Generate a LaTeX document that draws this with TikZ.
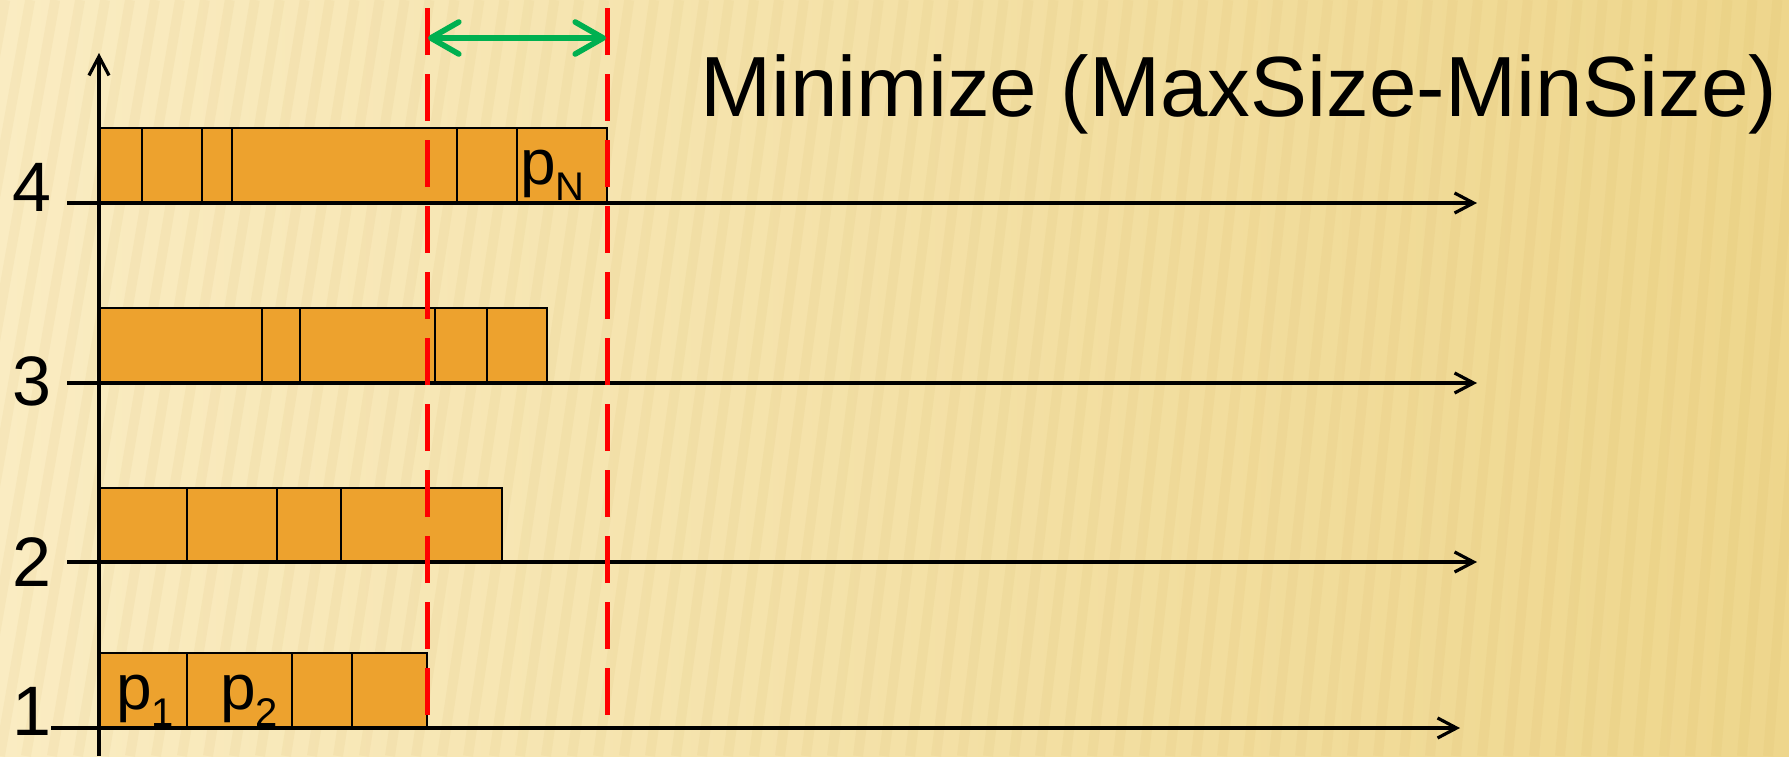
\documentclass[tikz,border=0pt]{standalone}
\usepackage{fontspec}
\setmainfont{Liberation Sans}
\usetikzlibrary{arrows.meta}
\definecolor{barfill}{RGB}{237,162,46}
\definecolor{bgL}{RGB}{250,236,194}
\definecolor{bgM}{RGB}{252,242,200}
\definecolor{bgR}{RGB}{238,214,140}
\definecolor{stripe}{RGB}{200,160,70}
\definecolor{guidered}{RGB}{255,0,0}
\definecolor{spangreen}{RGB}{0,176,80}
\tikzset{
  cell/.style={draw=black, line width=1pt, fill=barfill},
  axis/.style={draw=black, line width=1.6pt, -{Straight Barb[length=9.5pt,width=10pt]}},
  guide/.style={draw=guidered, line width=2.5pt, dash pattern=on 23.5pt off 9.5pt},
  span/.style={draw=spangreen, line width=2.8pt, line cap=round,
    {Straight Barb[length=14pt,width=16pt,round]}-{Straight Barb[length=14pt,width=16pt,round]}},
  rowlabel/.style={inner sep=0pt, anchor=base, font=\fontsize{35}{40}\selectfont},
  plabel/.style={inner sep=0pt, anchor=base west, font=\fontsize{32}{36}\selectfont},
  bgstripe/.style={draw=stripe, line width=5pt, opacity=0.07}
}
\begin{document}
\begin{tikzpicture}[x=0.5pt,y=-0.5pt]
\useasboundingbox (0,0) rectangle (1789,756);
% background
\shade[left color=bgL, middle color=bgM, right color=bgR] (0,0) rectangle (1789,756);
\begin{scope}
\clip (0,0) rectangle (1789,756);
\foreach \i in {-6,...,70}{
  \pgfmathsetmacro{\b}{\i*26}
  \pgfmathsetmacro{\d}{130-0.04*\b}
  \draw[bgstripe] (\b+\d,0) -- (\b,756);
}
\end{scope}

% bars
% row 4
\foreach \a/\c in {99/142,142/202,202/232,232/457,457/517,517/607}
  \draw[cell] (\a,128) rectangle (\c,203);
% row 3
\foreach \a/\c in {99/262,262/300,300/435,435/487,487/547}
  \draw[cell] (\a,308) rectangle (\c,383);
% row 2
\foreach \a/\c in {99/187,187/277,277/341,341/502}
  \draw[cell] (\a,488) rectangle (\c,562);
% row 1
\foreach \a/\c in {99/187,187/292,292/352,352/427}
  \draw[cell] (\a,653) rectangle (\c,728);

% axes
\coordinate (ybot) at (99,756);
\coordinate (ytop) at (99,53);
\coordinate (r4s) at (67,203);  \coordinate (r4e) at (1477,203);
\coordinate (r3s) at (67,383);  \coordinate (r3e) at (1477,383);
\coordinate (r2s) at (67,562);  \coordinate (r2e) at (1477,562);
\coordinate (r1s) at (51,728);  \coordinate (r1e) at (1460,728);
\draw[axis] (ybot) -- (ytop);
\draw[axis] (r4s) -- (r4e);
\draw[axis] (r3s) -- (r3e);
\draw[axis] (r2s) -- (r2e);
\draw[axis] (r1s) -- (r1e);

% row labels
\node[rowlabel] (l4) at (32,211) {4};
\node[rowlabel] (l3) at (32,405) {3};
\node[rowlabel] (l2) at (32,586) {2};
\node[rowlabel] (l1) at (32,735) {1};

% job labels
\node[plabel] (p1) at (116,709) {p\raisebox{-8.5pt}{\fontsize{20}{22}\selectfont 1}};
\node[plabel] (p2) at (220,709) {p\raisebox{-8.5pt}{\fontsize{20}{22}\selectfont 2}};
\node[plabel] (pN) at (520,184) {p\raisebox{-8pt}{\fontsize{20}{22}\selectfont N}};

% red guides
\coordinate (gAt) at (427,8);  \coordinate (gAb) at (427,715);
\coordinate (gBt) at (607,8);  \coordinate (gBb) at (607,715);
\draw[guide] (gAt) -- (gAb);
\draw[guide] (gBt) -- (gBb);

% green span arrow
\coordinate (sA) at (428,38);
\coordinate (sB) at (606,38);
\draw[span] (sA) -- (sB);

% title
\node[inner sep=0pt, anchor=base west, font=\fontsize{42.7}{48}\selectfont] (title) at (700,116) {Minimize (MaxSize-MinSize)};
\end{tikzpicture}
\end{document}
